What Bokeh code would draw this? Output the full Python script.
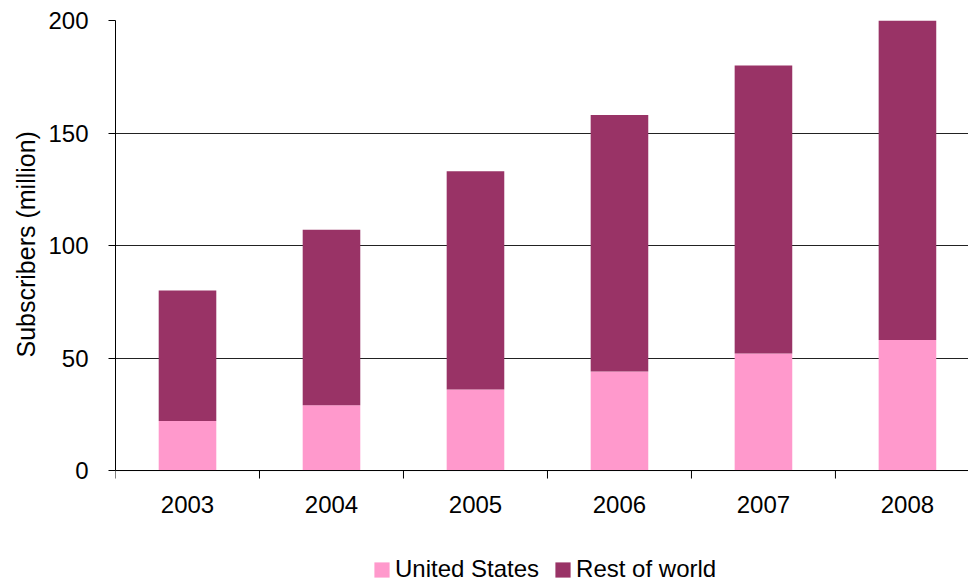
import math

from bokeh.plotting import figure
from bokeh.models import (ColumnDataSource, Range1d, FixedTicker, Legend, LegendItem, Span, Title)
from bokeh.core.properties import value
from bokeh.embed import file_html
from bokeh.resources import INLINE

# Subscribers (million) by year
years = ["2003", "2004", "2005", "2006", "2007", "2008"]
united_states = [22, 29, 36, 44, 52, 58]
rest_of_world = [58, 78, 97, 114, 128, 142]

y_ticks = [0, 50, 100, 150, 200]

PINK = "#FF99CC"
MAROON = "#993366"
FONT = "Liberation Sans"
SIZE = "24px"

centers = [i + 0.5 for i in range(len(years))]
boundaries = list(range(len(years) + 1))

source = ColumnDataSource(data=dict(
    x=centers,
    year=years,
    us=united_states,
    row=rest_of_world,
    total=[a + b for a, b in zip(united_states, rest_of_world)],
))

# The frame runs to the foot of the page so the category labels and the legend
# are drawn inside it, below the zero line.
p = figure(width=968, height=583, frame_width=853, frame_height=563,
           output_backend="svg", toolbar_location=None, x_axis_location=None,
           x_range=Range1d(0, 5.924), y_range=Range1d(-50.2, 200),
           min_border_left=115, min_border_top=20, min_border_right=0,
           min_border_bottom=0)
p.outline_line_color = None
p.background_fill_color = "white"

us_r = p.vbar(x="x", width=0.40, bottom=0, top="us", source=source,
              fill_color=PINK, line_color=None)
row_r = p.vbar(x="x", width=0.40, bottom="us", top="total", source=source,
               fill_color=MAROON, line_color=None)

# y axis, limited to the value range
p.yaxis.ticker = FixedTicker(ticks=y_ticks)
p.yaxis.bounds = (0, 200)
p.yaxis.major_label_text_font = FONT
p.yaxis.major_label_text_font_size = SIZE
p.yaxis.major_label_text_color = "black"
p.yaxis.major_label_standoff = 20
p.yaxis.major_tick_out = 7
p.yaxis.major_tick_in = 0
p.yaxis.minor_tick_out = 0
p.yaxis.minor_tick_in = 0
p.yaxis.axis_line_color = "black"
p.yaxis.major_tick_line_color = "black"

# y axis caption, centred on the value range rather than on the whole frame
p.add_layout(Title(text="Subscribers (million)", align="left", offset=226,
                   standoff=12, text_font=FONT, text_font_size="25px",
                   text_font_style="normal", text_color="black"), "left")

p.xgrid.grid_line_color = None
p.ygrid.ticker = FixedTicker(ticks=y_ticks)
p.ygrid.grid_line_color = "#222222"
p.ygrid.grid_line_width = 1

# category axis: baseline, boundary ticks and year labels
p.add_layout(Span(location=0, dimension="width", line_color="black", line_width=1))
p.ray(x=boundaries, y=[0] * len(boundaries), length=8, length_units="screen",
      angle=-math.pi / 2, line_color="black", line_width=1)
p.text(x="x", y=0, text="year", source=source, y_offset=25,
       text_align="center", text_baseline="top", text_color="black",
       text_font=value(FONT), text_font_size=SIZE)

legend = Legend(items=[
    LegendItem(label="United States", renderers=[us_r]),
    LegendItem(label="Rest of world", renderers=[row_r]),
], orientation="horizontal", location=(257, 0))
legend.label_text_font = FONT
legend.label_text_font_size = SIZE
legend.label_text_color = "black"
legend.label_height = 18
legend.glyph_width = 19
legend.glyph_height = 19
legend.label_standoff = 4
legend.spacing = 14
legend.padding = 0
legend.margin = 0
legend.border_line_color = None
legend.background_fill_alpha = 0
p.add_layout(legend, "center")

open("out.html", "w").write(file_html(p, INLINE))
